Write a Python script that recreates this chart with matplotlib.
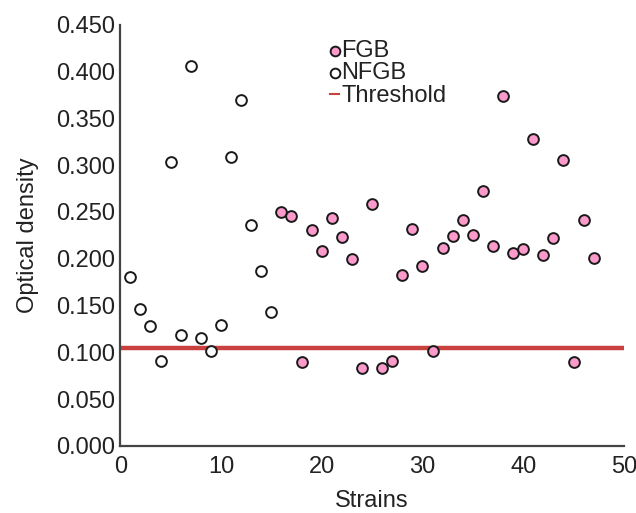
import matplotlib
matplotlib.use("Agg")
import matplotlib.pyplot as plt

# strains 1-15 are NFGB, 16-47 are FGB
nfgb_x = list(range(1, 16))
nfgb_y = [0.180, 0.146, 0.128, 0.091, 0.303, 0.118, 0.406, 0.115, 0.101,
          0.129, 0.309, 0.369, 0.236, 0.187, 0.143]
fgb_x = list(range(16, 48))
fgb_y = [0.250, 0.245, 0.090, 0.231, 0.208, 0.243, 0.223, 0.200, 0.083,
         0.258, 0.083, 0.091, 0.183, 0.232, 0.192, 0.101, 0.211, 0.224,
         0.241, 0.225, 0.272, 0.214, 0.374, 0.206, 0.210, 0.328, 0.204,
         0.222, 0.305, 0.089, 0.241, 0.201]
threshold = 0.104

yticks = [0.0, 0.05, 0.1, 0.15, 0.2, 0.25, 0.3, 0.35, 0.4, 0.45]
xticks = [0, 10, 20, 30, 40, 50]

plt.rcParams['font.family'] = ['Liberation Sans', 'DejaVu Sans']
plt.rcParams['font.size'] = 17
plt.rcParams['text.color'] = '#222222'
plt.rcParams['axes.labelcolor'] = '#222222'

fig = plt.figure(figsize=(6.36, 5.13), dpi=100)
ax = fig.add_axes([0.189, 0.131, 0.792, 0.821])

ax.axhline(threshold, color='#c9413f', lw=3.2, zorder=1, label='Threshold')
ax.scatter(fgb_x, fgb_y, s=60, facecolor='#fb9acb', edgecolor='#1a1a1a',
           linewidths=1.4, zorder=3, label='FGB', clip_on=False)
ax.scatter(nfgb_x, nfgb_y, s=60, facecolor='white', edgecolor='#1a1a1a',
           linewidths=1.4, zorder=3, label='NFGB', clip_on=False)

ax.set_xlim(0, 50)
ax.set_ylim(0, 0.45)
ax.set_xticks(xticks)
ax.set_yticks(yticks)
ax.set_yticklabels(['%.3f' % v for v in yticks])
ax.tick_params(length=0, colors='#222222')
ax.tick_params(axis='x', pad=7)
ax.tick_params(axis='y', pad=4)

for s in ['top', 'right']:
    ax.spines[s].set_visible(False)
for s in ['left', 'bottom']:
    ax.spines[s].set_color('#444444')
    ax.spines[s].set_linewidth(1.6)

ax.set_xlabel('Strains', labelpad=9)
ax.set_ylabel('Optical density', labelpad=12)

h, l = ax.get_legend_handles_labels()
order = [1, 2, 0]
leg = ax.legend([h[i] for i in order], [l[i] for i in order],
                loc='upper left', bbox_to_anchor=(0.50, 0.945),
                bbox_transform=fig.transFigure, frameon=False,
                handlelength=0.4, handletextpad=0.1, labelspacing=0.02,
                markerscale=0.9, borderpad=0)
for line in leg.get_lines():
    line.set_linewidth(1.5)

fig.savefig('out.png', dpi=100)
